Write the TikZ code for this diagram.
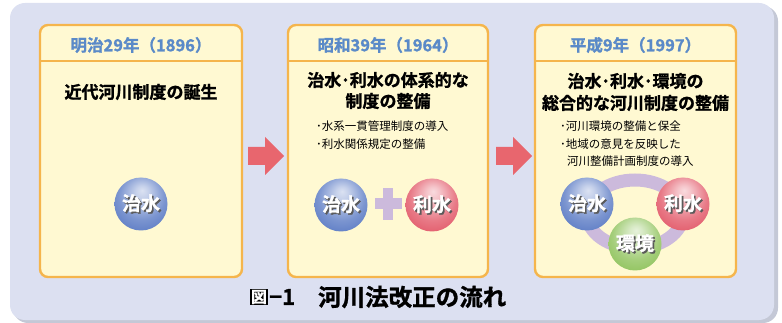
\documentclass[tikz,border=0pt]{standalone}
\usepackage{fontspec}
\setmainfont{Noto Sans CJK JP}[BoldFont={Noto Sans CJK JP Bold}]
\newfontfamily\heavy{Noto Sans CJK JP Bold}[FakeBold=1.2]
\usetikzlibrary{shadings}
\definecolor{bgc}{HTML}{DCE0F1}
\definecolor{shc}{HTML}{C4C8D6}
\definecolor{panelfill}{HTML}{FFF9D2}
\definecolor{panelline}{HTML}{F5B54C}
\definecolor{hdrc}{HTML}{5A8AC8}
\definecolor{arrc}{HTML}{E8666E}
\definecolor{ringc}{HTML}{CCBADC}
\definecolor{blueb}{HTML}{5A7AC4}
\definecolor{redb}{HTML}{E25868}
\definecolor{greenb}{HTML}{8EC25A}
\definecolor{txtsh}{HTML}{5A5A5A}
\pgfdeclareradialshading{blueball}{\pgfpoint{1bp}{13bp}}{color(0bp)=(blueb!22!white); color(6bp)=(blueb!35!white); color(22bp)=(blueb!80!white); color(34bp)=(blueb); color(50bp)=(blueb)}
\pgfdeclareradialshading{redball}{\pgfpoint{1bp}{13bp}}{color(0bp)=(redb!22!white); color(6bp)=(redb!35!white); color(22bp)=(redb!80!white); color(34bp)=(redb); color(50bp)=(redb)}
\pgfdeclareradialshading{greenball}{\pgfpoint{1bp}{13bp}}{color(0bp)=(greenb!22!white); color(6bp)=(greenb!35!white); color(22bp)=(greenb!80!white); color(34bp)=(greenb); color(50bp)=(greenb)}
\newcommand{\shadowtext}[1]{\makebox[0pt][l]{\kern1.6pt\raisebox{-1.6pt}{\textcolor{txtsh}{#1}}}#1}
\tikzset{
  panel/.style={draw=panelline, line width=2.4pt, fill=panelfill, rounded corners=8pt, minimum width=#1, minimum height=252pt, inner sep=0pt},
  hdr/.style={text=hdrc, font=\heavy\fontsize{16.5}{18}\selectfont, inner sep=0pt},
  ttl/.style={font=\heavy\fontsize{17}{18}\selectfont, inner sep=0pt},
  bul/.style={font=\fontsize{11.5}{13}\selectfont, inner sep=0pt, anchor=west},
  ball/.style={circle, minimum size=53pt, inner sep=0pt, shading=#1, font=\heavy\fontsize{19}{20}\selectfont, text=white},
}
\begin{document}
\begin{tikzpicture}[x=1pt,y=-1pt]
\useasboundingbox (0,0) rectangle (782,323);
% background
\fill[shc, rounded corners=15pt] (13,6) rectangle (778,323);
\fill[bgc, rounded corners=15pt] (10,3) rectangle (774,320);
% panels
\node[panel=202pt] (p1) at (141,151) {};
\node[panel=200pt] (p2) at (388,151) {};
\node[panel=201pt] (p3) at (635.5,151) {};
\draw[panelline, line width=2.4pt] (40,61) -- (242,61);
\draw[panelline, line width=2.4pt] (288,61) -- (488,61);
\draw[panelline, line width=2.4pt] (535,61) -- (736,61);
% headers
\node[hdr] (h1) at (141,45) {明治29年（1896）};
\node[hdr] (h2) at (388,45) {昭和39年（1964）};
\node[hdr] (h3) at (635.5,45) {平成9年（1997）};
% titles
\node[ttl] (t1) at (141,92) {近代河川制度の誕生};
\node[ttl] (t2a) at (388,80) {治水･利水の体系的な};
\node[ttl] (t2b) at (388,101) {制度の整備};
\node[ttl] (t3a) at (635.5,81) {治水･利水･環境の};
\node[ttl] (t3b) at (635.5,103) {総合的な河川制度の整備};
% bullets
\node[bul] (b2a) at (316,126) {･水系一貫管理制度の導入};
\node[bul] (b2b) at (316,144) {･利水関係規定の整備};
\node[bul] (b3a) at (560,126) {･河川環境の整備と保全};
\node[bul] (b3b) at (560,144) {･地域の意見を反映した};
\node[bul] (b3c) at (567,161) {河川整備計画制度の導入};
% arrows
\fill[arrc] (248,147) -- (265,147) -- (265,137) -- (284,156) -- (265,175) -- (265,165) -- (248,165) -- cycle;
\fill[arrc] (496,147) -- (513,147) -- (513,137) -- (532,156) -- (513,175) -- (513,165) -- (496,165) -- cycle;
% plus
\fill[ringc] (375,198) rectangle (402,209);
\fill[ringc] (383,188) rectangle (393,220);
% ring
\draw[ringc, line width=13pt] (635,214) ellipse [x radius=48, y radius=34];
% balls
\node[ball=blueball] (c1) at (141,204) {\shadowtext{治水}};
\node[ball=blueball] (c2) at (341,205) {\shadowtext{治水}};
\node[ball=redball] (c3) at (432,205) {\shadowtext{利水}};
\node[ball=blueball] (c4) at (587,204) {\shadowtext{治水}};
\node[ball=redball] (c5) at (683,204) {\shadowtext{利水}};
\node[ball=greenball] (c6) at (635,244) {\shadowtext{環境}};
% caption
\node[fill=black, text=white, font=\heavy\fontsize{16}{17}\selectfont, inner sep=1.2pt] (fz) at (259,297) {図};
\node[font=\heavy\fontsize{22}{24}\selectfont, anchor=west, inner sep=0pt] (fn) at (269,297) {−1};
\node[font=\heavy\fontsize{23.5}{25}\selectfont, anchor=west, inner sep=0pt] (fc) at (318,297) {河川法改正の流れ};
\end{tikzpicture}
\end{document}
